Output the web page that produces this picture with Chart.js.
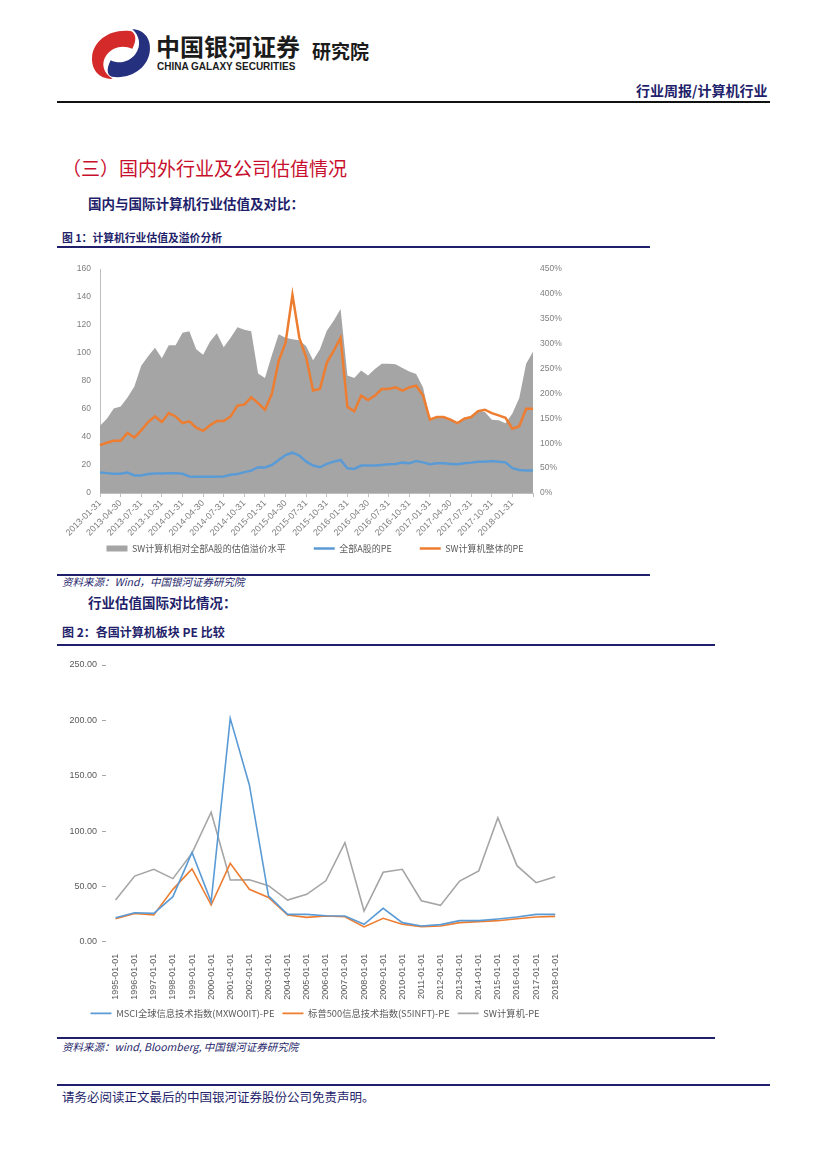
<!DOCTYPE html>
<html>
<head>
<meta charset="utf-8">
<script src="https://cdn.jsdelivr.net/npm/chart.js@4/dist/chart.umd.min.js"></script>
<style>
  body { margin: 0; background: #fff; }
  #page { position: relative; width: 827px; height: 1169px; overflow: hidden; font-family: "Noto Sans CJK SC", sans-serif; }
  .abs { position: absolute; white-space: nowrap; }
  .rule { position: absolute; background: #1f1f6b; }
  .navy { color: #1f1f6b; }
  .src { font-style: italic; font-size: 10.5px; color: #1f1f6b; }
</style>
</head>
<body>
<div id="page">
  <!-- header -->
  <svg class="abs" style="left:90px;top:27px" width="62" height="54" viewBox="0 0 60 52">
    <path d="M40 4 C20 1 3 13 2 29 C1 42 10 51 22 50 C13 45 10 35 16 27 C22 19 32 17 41 21 C45 13 45 7 40 4 Z" fill="#d42a2a"/>
    <path d="M21 48 C40 51 57 39 58 22 C59 10 51 2 41 2 C48 8 50 18 44 26 C38 34 28 36 20 32 C16 40 16 46 21 48 Z" fill="#25307e"/>
  </svg>
  <div class="abs" style="left:156px;top:28px;font-size:24px;font-weight:bold;color:#1b1b1b">中国银河证券</div>
  <div class="abs" style="left:157px;top:61px;font-size:10px;font-weight:bold;color:#1b1b1b;font-family:'Liberation Sans',sans-serif">CHINA GALAXY SECURITIES</div>
  <div class="abs" style="left:312px;top:37px;font-size:19px;font-weight:bold;color:#1b1b1b">研究院</div>
  <div class="abs navy" style="left:636px;top:80px;font-size:14px;font-weight:bold">行业周报/计算机行业</div>
  <div class="rule" style="left:57px;top:101px;width:713px;height:2px;background:#111"></div>

  <div class="abs" style="left:62px;top:154px;font-size:19px;color:#c8102e">（三）国内外行业及公司估值情况</div>
  <div class="abs navy" style="left:88px;top:193px;font-size:13.5px;font-weight:bold">国内与国际计算机行业估值及对比：</div>
  <div class="abs navy" style="left:62px;top:229px;font-size:10.8px;font-weight:bold">图 1：计算机行业估值及溢价分析</div>
  <div class="rule" style="left:57px;top:246px;width:593px;height:2px"></div>

  <div style="position:absolute;left:60px;top:255px;width:510px;height:308px"><canvas id="c1" width="510" height="308"></canvas></div>

  <div class="rule" style="left:57px;top:574px;width:593px;height:2px"></div>
  <div class="abs src" style="left:62px;top:574px">资料来源：Wind，中国银河证券研究院</div>
  <div class="abs navy" style="left:88px;top:592px;font-size:13.5px;font-weight:bold">行业估值国际对比情况：</div>
  <div class="abs navy" style="left:62px;top:623px;font-size:12px;font-weight:bold">图 2：各国计算机板块 PE 比较</div>
  <div class="rule" style="left:57px;top:644px;width:658px;height:2px"></div>

  <div style="position:absolute;left:60px;top:650px;width:510px;height:378px"><canvas id="c2" width="510" height="378"></canvas></div>

  <div class="rule" style="left:57px;top:1037px;width:658px;height:2px"></div>
  <div class="abs src" style="left:62px;top:1039px">资料来源：wind, Bloomberg, 中国银河证券研究院</div>
  <div class="rule" style="left:57px;top:1084px;width:713px;height:1.5px"></div>
  <div class="abs navy" style="left:62px;top:1087px;font-size:12.5px">请务必阅读正文最后的中国银河证券股份公司免责声明。</div>
</div>

<script>
// 图1 月度数据 2013-01 ~ 2018-04
var meses = [
  '2013-01-31','2013-02-28','2013-03-31','2013-04-30','2013-05-31','2013-06-30','2013-07-31','2013-08-31','2013-09-30','2013-10-31','2013-11-30','2013-12-31',
  '2014-01-31','2014-02-28','2014-03-31','2014-04-30','2014-05-31','2014-06-30','2014-07-31','2014-08-31','2014-09-30','2014-10-31','2014-11-30','2014-12-31',
  '2015-01-31','2015-02-28','2015-03-31','2015-04-30','2015-05-31','2015-06-30','2015-07-31','2015-08-31','2015-09-30','2015-10-31','2015-11-30','2015-12-31',
  '2016-01-31','2016-02-29','2016-03-31','2016-04-30','2016-05-31','2016-06-30','2016-07-31','2016-08-31','2016-09-30','2016-10-31','2016-11-30','2016-12-31',
  '2017-01-31','2017-02-28','2017-03-31','2017-04-30','2017-05-31','2017-06-30','2017-07-31','2017-08-31','2017-09-30','2017-10-31','2017-11-30','2017-12-31',
  '2018-01-31','2018-02-28','2018-03-31','2018-04-30'
];
// 溢价水平 (%)
var premio = [
  135,149,170,174,192,214,256,275,292,271,297,297,
  322,325,289,278,304,321,293,312,333,328,325,240,
  231,277,319,312,309,307,295,267,289,326,346,370,
  236,231,246,236,249,260,260,259,251,244,239,212,
  149,153,151,147,141,151,153,166,163,147,146,140,
  160,191,260,284
];
// 全部A股PE
var peTodasA = [
  14.6,14.2,13.7,13.7,14.6,12.5,12.5,13.5,13.9,13.9,14.2,14.2,
  13.7,11.8,11.6,11.6,11.6,11.6,11.8,13.0,13.5,14.9,16.0,18.4,
  18.2,20.0,23.6,27.1,28.8,26.7,22.4,19.6,18.4,20.8,22.4,23.6,
  17.7,17.2,19.6,19.6,19.6,20.0,20.5,20.8,21.7,21.2,22.9,21.9,
  20.5,21.2,21.2,20.8,20.5,21.2,21.7,22.4,22.4,22.9,22.4,21.9,
  17.7,16.5,16.0,16.0
];
// SW计算机整体PE
var peComputador = [
  34.2,35.9,37.3,37.3,43.0,39.6,44.8,50.7,54.7,50.7,57.1,54.7,
  50.0,51.2,46.7,44.4,48.4,51.4,51.4,54.7,62.5,63.2,68.4,64.2,
  59.5,70.8,94.4,107.4,141.6,110.9,96.8,73.2,74.3,93.2,101.5,110.9,
  61.4,58.5,69.6,66.5,69.6,74.3,74.3,75.5,73.2,75.5,76.7,69.6,
  52.4,54.3,54.3,52.4,50.0,53.1,54.3,58.5,59.5,57.1,55.5,53.8,
  46.0,47.7,60.2,60.2
];

// 图2 年度数据
var anos = ['1995-01-01','1996-01-01','1997-01-01','1998-01-01','1999-01-01','2000-01-01','2001-01-01','2002-01-01',
  '2003-01-01','2004-01-01','2005-01-01','2006-01-01','2007-01-01','2008-01-01','2009-01-01','2010-01-01',
  '2011-01-01','2012-01-01','2013-01-01','2014-01-01','2015-01-01','2016-01-01','2017-01-01','2018-01-01'];
var peMsci = [21.7,26.2,25.6,40.7,80.7,36.0,201.8,141.6,41.5,24.7,24.7,23.5,23.2,15.7,30.1,17.2,14.2,15.4,19.0,19.0,20.5,22.3,24.7,24.7];
var peSP500 = [20.8,25.6,24.1,47.3,65.7,33.1,70.8,47.3,40.0,24.1,22.0,23.2,22.6,13.3,21.1,15.7,13.6,14.2,17.2,18.1,19.0,20.8,22.3,22.9];
var peSW = [37.6,59.3,65.4,57.0,80.0,117.0,55.7,56.0,50.6,37.6,42.8,55.0,89.5,27.7,62.7,65.4,37.0,32.8,54.8,63.9,112.0,68.7,53.3,58.7];

var fonteNum = "'Liberation Sans', sans-serif";
var fonteCJK = "'Noto Sans CJK SC', sans-serif";
var cinzaTexto = '#7f7f7f';

// Grafico 1
var ctx1 = document.getElementById('c1').getContext('2d');
var grafico1 = new Chart(ctx1, {
    type: 'line',
    data: {
        labels: meses,
        datasets: [{
                label: 'SW计算机相对全部A股的估值溢价水平',
                data: premio,
                yAxisID: 'y1',
                fill: 'origin',
                backgroundColor: '#a5a5a5',
                borderWidth: 0,
                pointRadius: 0,
                pointStyle: 'rect',
                order: 2
            }, {
                label: '全部A股的PE',
                data: peTodasA,
                yAxisID: 'y',
                borderColor: '#5b9bd5',
                backgroundColor: '#5b9bd5',
                borderWidth: 2.5,
                pointRadius: 0,
                pointStyle: 'line',
                order: 1
            }, {
                label: 'SW计算机整体的PE',
                data: peComputador,
                yAxisID: 'y',
                borderColor: '#ed7d31',
                backgroundColor: '#ed7d31',
                borderWidth: 2.5,
                pointRadius: 0,
                pointStyle: 'line',
                order: 0
            }]
    },
    options: {
        responsive: false,
        animation: false,
        devicePixelRatio: 1,
        layout: {padding: {top: 12, left: 0, right: 0, bottom: 0}},
        plugins: {
            tooltip: {enabled: false},
            legend: {
                position: 'bottom',
                labels: {
                    usePointStyle: true,
                    pointStyleWidth: 21,
                    boxHeight: 6,
                    padding: 8,
                    color: '#595959',
                    font: {family: fonteCJK, size: 9},
                    // espaco horizontal entre itens sem aumentar a altura da legenda
                    generateLabels: function (chart) {
                        let itens = Chart.defaults.plugins.legend.labels.generateLabels(chart);
                        itens.forEach(function (it) {
                            if (it.datasetIndex < 2) {
                                it.text = it.text + '\u3000\u3000 ';
                            }
                        });
                        return itens;
                    },
                    sort: function (a, b) {
                        return a.datasetIndex - b.datasetIndex;
                    }
                }
            }
        },
        scales: {
            x: {
                offset: false,
                grid: {
                    drawOnChartArea: false,
                    tickLength: 4,
                    color: function (c) {
                        return (c.index % 3 === 0) ? '#bfbfbf' : 'rgba(0,0,0,0)';
                    }
                },
                border: {color: '#bfbfbf'},
                ticks: {
                    autoSkip: false,
                    minRotation: 45,
                    maxRotation: 45,
                    padding: 1,
                    color: cinzaTexto,
                    font: {family: fonteNum, size: 9},
                    callback: function (v, i) {
                        return (i % 3 === 0 && i <= 60) ? meses[i] : '';
                    }
                },
                afterFit: function (s) {
                    s.height = 43;
                }
            },
            y: {
                position: 'left',
                min: 0,
                max: 160,
                grid: {display: false, drawTicks: false},
                border: {color: '#bfbfbf'},
                ticks: {stepSize: 20, padding: 9, color: cinzaTexto, font: {family: fonteNum, size: 8.5}},
                afterFit: function (s) {
                    s.width = 40;
                }
            },
            y1: {
                position: 'right',
                min: 0,
                max: 450,
                grid: {display: false, drawTicks: false},
                border: {display: false},
                ticks: {
                    stepSize: 50, padding: 7, color: cinzaTexto, font: {family: fonteNum, size: 8.5},
                    callback: function (v) {
                        return v + '%';
                    }
                },
                afterFit: function (s) {
                    s.width = 37;
                }
            }
        }
    }
});

// Grafico 2
var ctx2 = document.getElementById('c2').getContext('2d');
var grafico2 = new Chart(ctx2, {
    type: 'line',
    data: {
        labels: anos,
        datasets: [{
                label: 'MSCI全球信息技术指数(MXWO0IT)-PE',
                data: peMsci,
                borderColor: '#5b9bd5',
                backgroundColor: '#5b9bd5',
                borderWidth: 1.6,
                pointRadius: 0,
                pointStyle: 'line'
            }, {
                label: '标普500信息技术指数(S5INFT)-PE',
                data: peSP500,
                borderColor: '#ed7d31',
                backgroundColor: '#ed7d31',
                borderWidth: 1.6,
                pointRadius: 0,
                pointStyle: 'line'
            }, {
                label: 'SW计算机-PE',
                data: peSW,
                borderColor: '#a5a5a5',
                backgroundColor: '#a5a5a5',
                borderWidth: 1.6,
                pointRadius: 0,
                pointStyle: 'line'
            }]
    },
    options: {
        responsive: false,
        animation: false,
        devicePixelRatio: 1,
        layout: {padding: {top: 15, left: 0, right: 0, bottom: 0}},
        plugins: {
            tooltip: {enabled: false},
            legend: {
                position: 'bottom',
                labels: {
                    usePointStyle: true,
                    pointStyleWidth: 21,
                    boxHeight: 6,
                    padding: 8,
                    color: '#595959',
                    font: {family: fonteCJK, size: 9.3}
                }
            }
        },
        scales: {
            x: {
                offset: true,
                grid: {display: false},
                border: {display: false},
                ticks: {
                    autoSkip: false,
                    minRotation: 90,
                    maxRotation: 90,
                    padding: 4,
                    color: '#595959',
                    font: {family: fonteNum, size: 9}
                },
                afterFit: function (s) {
                    s.height = 59;
                }
            },
            y: {
                min: 0,
                max: 250,
                grid: {drawOnChartArea: false, tickLength: 4, color: '#a6a6a6'},
                border: {display: false},
                ticks: {
                    stepSize: 50, padding: 5, color: '#595959', font: {family: fonteNum, size: 9},
                    callback: function (v) {
                        return v.toFixed(2);
                    }
                },
                afterFit: function (s) {
                    s.width = 46;
                }
            }
        }
    }
});
</script>
</body>
</html>
